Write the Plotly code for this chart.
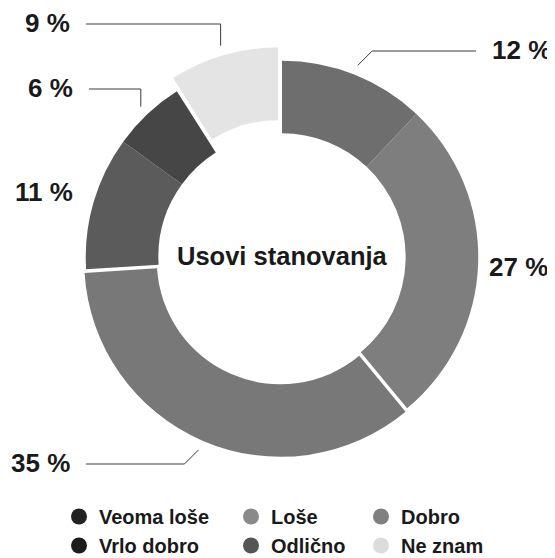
import math
import plotly.graph_objects as go

# ---------------- data ----------------
categories = ["Veoma loše", "Loše", "Dobro", "Vrlo dobro", "Odlično", "Ne znam"]
values = [12, 27, 35, 11, 6, 9]
value_labels = ["12 %", "27 %", "35 %", "11 %", "6 %", "9 %"]
center_title = "Usovi stanovanja"

# ---------------- style ----------------
slice_colors = ["#6e6e6e", "#7e7e7e", "#787878", "#5b5b5b", "#464646", "#e4e4e4"]
legend_colors = ["#222222", "#8a8a8a", "#808080", "#1c1c1c", "#555555", "#dcdcdc"]
pulls = [0, 0, 0.02, 0, 0, 0.07]

OFF = 8                # page body margin
W, H = 555 - OFF, 558 - OFF
CX, CY = 282, 257      # pie centre in screen px
R_DOM = 210            # half-size of pie domain in px
HOLE = 0.63
FONT = "Liberation Sans, Arial, sans-serif"
TXT = "#1a1a1a"
LINE = "#3a3a3a"

# label layout (screen px): text edge x, centre y, anchor side, connector kind
label_x = [490, 487, 72, 75, 75, 72]
label_y = [51, 268, 464, 193, 89, 24]
label_side = ["left", "left", "right", "right", "right", "right"]
connector = ["diag", None, "diag", None, "vert", "vert"]
CONN_GAP = 10
TEXT_GAP = 14


def px(x):
    return (x - OFF) / W


def py(y):
    return 1 - (y - OFF) / H


fig = go.Figure()

fig.add_trace(go.Pie(
    values=values,
    labels=categories,
    sort=False,
    direction="clockwise",
    rotation=0,
    hole=HOLE,
    pull=pulls,
    marker=dict(colors=slice_colors, line=dict(width=0)),
    textinfo="none",
    hoverinfo="label+percent",
    showlegend=False,
    domain=dict(x=[px(CX - R_DOM), px(CX + R_DOM)],
                y=[py(CY + R_DOM), py(CY - R_DOM)]),
))

# legend entries (three columns -> three legends)
legend_names = ["legend", "legend2", "legend3"]
for i, (cat, col) in enumerate(zip(categories, legend_colors)):
    fig.add_trace(go.Scatter(
        x=[None], y=[None], mode="markers", name=cat,
        marker=dict(size=18, color=col, symbol="circle"),
        legend=legend_names[i % 3], legendgroup=cat,
        showlegend=True, hoverinfo="skip",
    ))

# value labels + connectors computed from data angles
total = sum(values)
r = R_DOM / (1 + max(pulls))
shapes = []
annotations = []
cum = 0
for i, v in enumerate(values):
    frac = (cum + v / 2) / total
    cum += v
    th = 2 * math.pi * frac
    rho = r * (1 + pulls[i]) + CONN_GAP
    ax = CX + rho * math.sin(th)
    ay = CY - rho * math.cos(th)
    side = label_side[i]
    ly = label_y[i]
    if connector[i] is not None:
        if connector[i] == "diag":
            dy = abs(ay - ly)
            kx = ax + (dy if side == "left" else -dy)
        else:
            kx = ax
        ex = label_x[i] - TEXT_GAP if side == "left" else label_x[i] + TEXT_GAP
        path = (f"M {px(ax)} {py(ay)} L {px(kx)} {py(ly)} L {px(ex)} {py(ly)}")
        shapes.append(dict(type="path", path=path, xref="paper", yref="paper",
                           line=dict(color=LINE, width=1)))
    annotations.append(dict(
        x=px(label_x[i]), y=py(ly - 1), xref="paper", yref="paper",
        text=value_labels[i], showarrow=False, xanchor=side, yanchor="middle",
        font=dict(family=FONT, size=26, color=TXT, weight="bold"),
    ))

annotations.append(dict(
    x=px(CX), y=py(CY - 1), xref="paper", yref="paper", text=center_title,
    showarrow=False, xanchor="center", yanchor="middle",
    font=dict(family=FONT, size=25.5, color=TXT, weight="bold"),
))

leg_common = dict(orientation="v", xanchor="left", yanchor="top",
                  bgcolor="rgba(0,0,0,0)", borderwidth=0, tracegroupgap=0,
                  font=dict(family=FONT, size=20, color=TXT, weight="bold"),
                  itemclick=False, itemdoubleclick=False)
leg_x = [59, 231, 361]
LEG_TOP = 497

fig.update_layout(
    width=W, height=H,
    margin=dict(l=0, r=0, t=0, b=0, autoexpand=False),
    paper_bgcolor="white", plot_bgcolor="white",
    xaxis=dict(visible=False), yaxis=dict(visible=False),
    shapes=shapes, annotations=annotations,
    legend=dict(x=px(leg_x[0]), y=py(LEG_TOP), **leg_common),
    legend2=dict(x=px(leg_x[1]), y=py(LEG_TOP), **leg_common),
    legend3=dict(x=px(leg_x[2]), y=py(LEG_TOP), **leg_common),
)

fig.write_html("out.html")
